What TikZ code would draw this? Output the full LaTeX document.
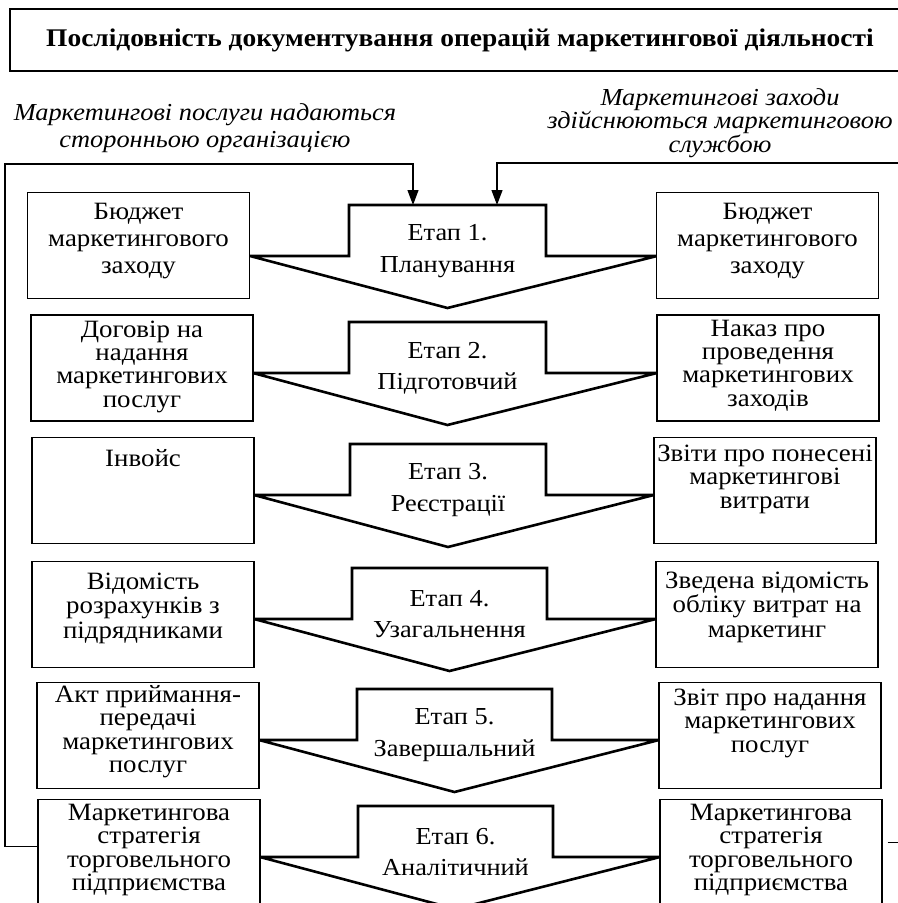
\documentclass[tikz,border=0pt]{standalone}
\usepackage{fontspec}
\setmainfont{Liberation Serif}[FakeStretch=1.08]
\usetikzlibrary{arrows.meta,positioning}

\newcommand{\doctext}[2][25bp]{\parbox[c][106bp][t]{222bp}{\centering\rule{0pt}{#1}#2}}
\newcommand{\stageshape}[5]{% top, inner left, inner right, left end, right end
  \draw[stagebox] (#2,#1) -- (#3,#1) -- (#3,{#1+51}) -- (#5,{#1+51})
    -- ({(#2+#3)/2},{#1+103}) -- (#4,{#1+51}) -- (#2,{#1+51}) -- cycle;}

\begin{document}
\begin{tikzpicture}[x=1bp,y=-1bp,
    docbox/.style={draw,line width=1.2bp,fill=white,inner sep=0pt,
      font=\fontsize{25}{24.5}\selectfont},
    wideline/.style={font=\fontsize{25}{27}\selectfont},
    fourline/.style={font=\fontsize{25}{23.5}\selectfont},
    stagebox/.style={draw,line width=2.6bp,line join=miter,fill=white},
    stagetext/.style={align=center,font=\fontsize{24.5}{31.5}\selectfont},
    titlebox/.style={draw,line width=1.2bp,minimum width=900bp,minimum height=62bp,
      font=\fontsize{25.5}{28}\selectfont\bfseries},
    note/.style={align=center,font=\fontsize{24.5}{25}\selectfont\itshape},
    link/.style={line width=1.2bp,-{Triangle[length=15bp,width=11bp]}}]
  \useasboundingbox (0,0) rectangle (898,903);
  %Title
  \node[titlebox] (title) at (460,40) {Послідовність документування операцій маркетингової діяльності};
  \node[note,font=\fontsize{24.5}{27}\selectfont\itshape] (outsrc) at (205,128)
    {Маркетингові послуги надаються\\сторонньою організацією};
  \node[note,font=\fontsize{24.5}{22}\selectfont\itshape] (ownsrv) at (720,123)
    {Маркетингові заходи\\здійснюються маркетинговою\\службою};
  %Stages
  \stageshape{205}{349}{546}{250}{657}
  \stageshape{322}{349}{546}{253}{657}
  \stageshape{444}{350}{546}{254}{654}
  \stageshape{568}{352}{547}{254}{656}
  \stageshape{689}{357}{552}{259}{659}
  \stageshape{806}{358}{553}{260}{660}
  \node[stagetext] (s1) at (447.5,251) {Етап 1.\\Планування};
  \node[stagetext] (s2) at (447.5,368) {Етап 2.\\Підготовчий};
  \node[stagetext] (s3) at (448,490) {Етап 3.\\Реєстрації};
  \node[stagetext] (s4) at (449.5,614) {Етап 4.\\Узагальнення};
  \node[stagetext] (s5) at (454.5,735) {Етап 5.\\Завершальний};
  \node[stagetext] (s6) at (455.5,852) {Етап 6.\\Аналітичний};
  %Documents, outside agency
  \node[docbox,wideline] (l1) at (138.5,245.5) {\doctext[27bp]{Бюджет\\маркетингового\\заходу}};
  \node[docbox,fourline] (l2) at (142,368) {\doctext[22bp]{Договір на\\надання\\маркетингових\\послуг}};
  \node[docbox] (l3) at (143,490.5) {\doctext[29bp]{Інвойс}};
  \node[docbox] (l4) at (143,614.5) {\doctext[28bp]{Відомість\\розрахунків з\\підрядниками}};
  \node[docbox,fourline] (l5) at (148,735.5) {\doctext[20bp]{Акт приймання-\\передачі\\маркетингових\\послуг}};
  \node[docbox,fourline] (l6) at (149,852.5) {\doctext[21bp]{Маркетингова\\стратегія\\торговельного\\підприємства}};
  %Documents, own service
  \node[docbox,wideline] (r1) at (767.5,245.5) {\doctext[27bp]{Бюджет\\маркетингового\\заходу}};
  \node[docbox,fourline] (r2) at (768,368) {\doctext[21bp]{Наказ про\\проведення\\маркетингових\\заходів}};
  \node[docbox,fourline] (r3) at (765,490.5) {\doctext[24bp]{Звіти про понесені\\маркетингові\\витрати}};
  \node[docbox] (r4) at (767,614.5) {\doctext[27bp]{Зведена відомість\\обліку витрат на\\маркетинг}};
  \node[docbox,fourline] (r5) at (770,735.5) {\doctext[23bp]{Звіт про надання\\маркетингових\\послуг}};
  \node[docbox,fourline] (r6) at (771,852.5) {\doctext[21bp]{Маркетингова\\стратегія\\торговельного\\підприємства}};
  %Feedback lines
  \coordinate (in1) at (413,205);
  \coordinate (in2) at (497,205);
  \coordinate (lc) at (5,164);
  \coordinate (rc) at (906,163);
  \draw[link] ([yshift=6bp]l6.west) -| (lc) -| (in1);
  \draw[link] ([xshift=5bp,yshift=10bp]r6.east) -| (rc) -| (in2);
\end{tikzpicture}
\end{document}
